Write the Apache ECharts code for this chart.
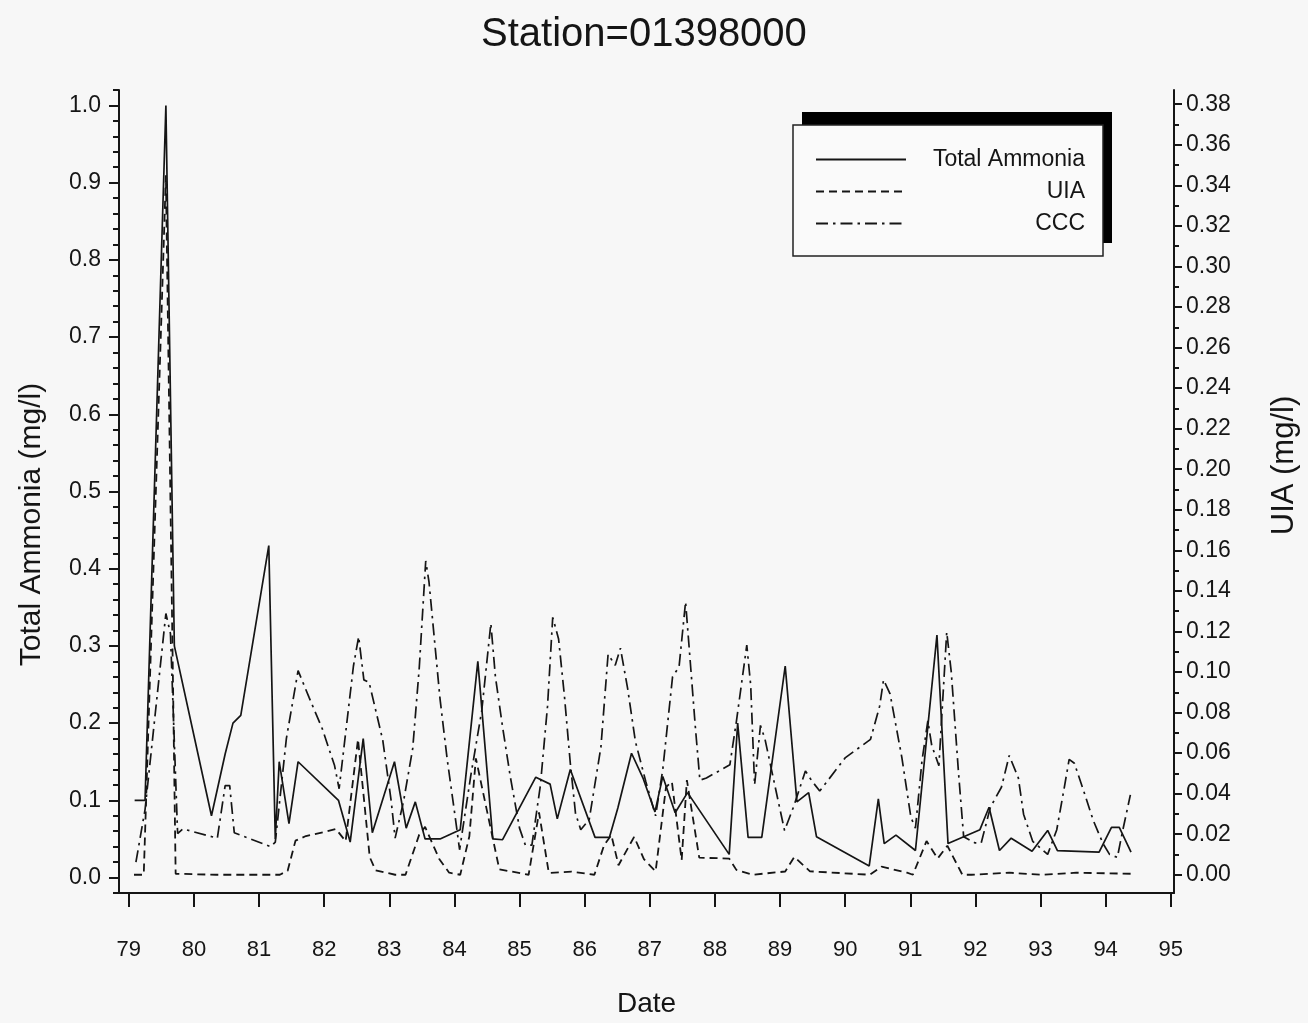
<!DOCTYPE html>
<html>
<head>
<meta charset="utf-8">
<script src="https://cdn.jsdelivr.net/npm/echarts@6/dist/echarts.min.js"></script>
<style>
html,body{margin:0;padding:0;background:#f7f7f7;}
#chart{width:1308px;height:1023px;}
</style>
</head>
<body>
<div id="chart"></div>
<script>
// ---- Data (year as decimal, e.g. 79.5 = mid-1979) ----
const yearTicks = [79,80,81,82,83,84,85,86,87,88,89,90,91,92,93,94,95];
const leftTicks = [0.0,0.1,0.2,0.3,0.4,0.5,0.6,0.7,0.8,0.9,1.0];
const rightTicks = [0.00,0.02,0.04,0.06,0.08,0.10,0.12,0.14,0.16,0.18,0.20,0.22,0.24,0.26,0.28,0.30,0.32,0.34,0.36,0.38];

const taDates = [79.09,79.25,79.57,79.70,80.27,80.48,80.60,80.72,81.15,81.25,81.31,81.46,81.60,82.22,82.40,82.60,82.74,83.08,83.26,83.40,83.55,83.78,84.09,84.36,84.59,84.74,85.25,85.47,85.58,85.78,86.16,86.38,86.51,86.72,86.90,87.08,87.20,87.39,87.58,88.22,88.35,88.51,88.72,89.08,89.26,89.44,89.56,90.37,90.51,90.60,90.78,91.08,91.41,91.58,92.07,92.21,92.37,92.55,92.87,93.11,93.26,93.90,94.09,94.21,94.39];
const taValues = [0.10,0.10,1.00,0.30,0.08,0.16,0.20,0.21,0.43,0.05,0.15,0.07,0.15,0.10,0.046,0.18,0.058,0.15,0.064,0.098,0.05,0.05,0.062,0.28,0.05,0.049,0.13,0.121,0.076,0.14,0.052,0.052,0.09,0.161,0.128,0.085,0.131,0.084,0.11,0.03,0.20,0.052,0.052,0.274,0.098,0.11,0.053,0.015,0.102,0.044,0.055,0.035,0.314,0.044,0.062,0.091,0.035,0.051,0.034,0.061,0.035,0.033,0.065,0.065,0.033];

const uiaDates = [79.08,79.23,79.57,79.72,80.34,80.45,81.32,81.44,81.56,81.72,82.03,82.18,82.33,82.52,82.70,82.79,83.09,83.25,83.46,83.55,83.77,83.92,84.09,84.23,84.33,84.69,85.14,85.30,85.45,85.80,86.15,86.30,86.41,86.52,86.76,86.91,87.09,87.25,87.34,87.49,87.57,87.76,88.22,88.33,88.58,89.08,89.22,89.46,90.38,90.56,90.95,91.04,91.25,91.42,91.57,91.80,91.94,92.52,93.03,93.55,94.39];
const uiaValues = [0.0,0.0,0.345,0.0005,0.0,0.0,0.0,0.002,0.0168,0.0191,0.0213,0.0226,0.0165,0.0668,0.0087,0.0022,0.0,0.0,0.0198,0.0236,0.0076,0.001,0.0,0.019,0.0574,0.0027,0.0,0.0307,0.0009,0.0015,0.0,0.0147,0.0196,0.0047,0.0187,0.0077,0.0017,0.0433,0.0458,0.0072,0.0467,0.0084,0.008,0.0024,0.0,0.0016,0.0088,0.0017,0.0,0.004,0.001,0.0,0.0166,0.008,0.0143,0.0,0.0,0.001,0.0,0.001,0.0005];

const cccDates = [79.11,79.25,79.57,79.64,79.75,79.83,80.36,80.48,80.55,80.62,81.18,81.25,81.42,81.60,81.77,81.97,82.16,82.23,82.45,82.53,82.61,82.69,82.90,83.03,83.09,83.22,83.36,83.46,83.56,83.61,83.78,83.89,84.01,84.08,84.25,84.42,84.56,84.63,84.74,84.86,85.00,85.09,85.19,85.32,85.43,85.51,85.60,85.69,85.78,85.86,85.94,86.07,86.25,86.36,86.47,86.55,86.66,86.78,86.94,87.09,87.20,87.35,87.45,87.55,87.64,87.70,87.77,87.87,88.23,88.33,88.49,88.55,88.61,88.70,88.77,88.98,89.07,89.21,89.39,89.49,89.61,90.00,90.39,90.53,90.59,90.69,90.87,91.01,91.08,91.18,91.27,91.33,91.44,91.56,91.63,91.74,91.82,91.99,92.09,92.23,92.40,92.52,92.66,92.74,92.88,93.11,93.25,93.36,93.44,93.52,93.66,93.81,93.96,94.06,94.18,94.26,94.38];
const cccValues = [0.02,0.088,0.342,0.316,0.057,0.063,0.051,0.119,0.119,0.058,0.040,0.046,0.18,0.268,0.233,0.193,0.145,0.115,0.274,0.312,0.256,0.253,0.178,0.099,0.051,0.099,0.167,0.271,0.41,0.383,0.231,0.153,0.080,0.036,0.131,0.216,0.329,0.260,0.195,0.130,0.064,0.042,0.042,0.119,0.222,0.337,0.309,0.235,0.148,0.083,0.062,0.075,0.169,0.289,0.275,0.297,0.245,0.176,0.124,0.080,0.140,0.260,0.273,0.357,0.260,0.195,0.126,0.129,0.146,0.202,0.301,0.249,0.120,0.197,0.179,0.096,0.061,0.092,0.138,0.125,0.112,0.155,0.179,0.222,0.256,0.238,0.156,0.078,0.064,0.151,0.203,0.171,0.145,0.318,0.266,0.137,0.053,0.045,0.045,0.091,0.117,0.158,0.129,0.082,0.047,0.030,0.062,0.114,0.153,0.148,0.113,0.074,0.044,0.030,0.026,0.060,0.107];

// ---- Chart ----
const FONT = "'Liberation Sans', Arial, sans-serif";
const INK = '#151515';
const pair = (d, v) => d.map((x, i) => [x, v[i]]);

const leftMinor = [];
for (let i = -1; i <= 51; i++) leftMinor.push(Math.round(i * 2) / 100);
const rightMinor = [];
for (let i = 0; i <= 38; i++) rightMinor.push(i / 100);

const chart = echarts.init(document.getElementById('chart'), null, {renderer: 'canvas'});

const grid = {left: 119, top: 90, width: 1061, height: 803};

const option = {
  backgroundColor: '#f7f7f7',
  animation: false,
  title: {
    text: 'Station=01398000',
    left: 476, top: 10,
    textStyle: {fontFamily: FONT, fontSize: 40, fontWeight: 'normal', color: INK}
  },
  grid: grid,
  legend: {
    orient: 'vertical',
    left: 810, top: 143,
    itemWidth: 90, itemHeight: 4, itemGap: 9,
    z: 10,
    data: ['Total Ammonia', 'UIA', 'CCC'],
    itemStyle: {opacity: 0},
    formatter: n => '{n|' + n + '}',
    textStyle: {
      color: INK, fontFamily: FONT, fontSize: 23,
      rich: {n: {width: 174, align: 'right', fontSize: 23, fontFamily: FONT, color: INK}}
    }
  },
  graphic: [
    {type: 'rect', z: 5, shape: {x: 802, y: 112, width: 310, height: 131}, style: {fill: '#000'}},
    {type: 'rect', z: 6, shape: {x: 793, y: 125, width: 310, height: 131}, style: {fill: '#fafafa', stroke: '#222', lineWidth: 1.5}}
  ],
  xAxis: {
    type: 'value', min: 78.85, max: 95.05,
    name: 'Date', nameLocation: 'middle', nameGap: 97,
    nameTextStyle: {fontFamily: FONT, fontSize: 28, color: INK},
    axisLine: {show: true, onZero: false, lineStyle: {color: INK, width: 2}},
    axisTick: {show: true, length: 14, customValues: yearTicks, lineStyle: {color: INK, width: 2}},
    axisLabel: {customValues: yearTicks, formatter: v => String(Math.round(v)), margin: 46,
      fontFamily: FONT, fontSize: 22, color: INK},
    splitLine: {show: false}
  },
  yAxis: [
    {
      type: 'value', position: 'left', min: -0.02, max: 1.02,
      name: 'Total Ammonia (mg/l)', nameLocation: 'middle', nameGap: 72, nameRotate: 90,
      nameTextStyle: {fontFamily: FONT, fontSize: 30, color: INK, padding: [0, 66, 0, 0]},
      axisLine: {show: true, lineStyle: {color: INK, width: 2}},
      axisTick: {show: true, length: 10, customValues: leftTicks, lineStyle: {color: INK, width: 2}},
      axisLabel: {customValues: leftTicks, formatter: v => v.toFixed(1), margin: 18,
        fontFamily: FONT, fontSize: 23, color: INK},
      splitLine: {show: false}
    },
    {
      type: 'value', position: 'right', min: -0.009, max: 0.387,
      name: 'UIA (mg/l)', nameLocation: 'middle', nameGap: 95, nameRotate: 90,
      nameTextStyle: {fontFamily: FONT, fontSize: 31, color: INK, padding: [0, 0, 0, 52]},
      axisLine: {show: true, lineStyle: {color: INK, width: 2}},
      axisTick: {show: true, length: 8, customValues: rightTicks, lineStyle: {color: INK, width: 2}},
      axisLabel: {customValues: rightTicks, formatter: v => v.toFixed(2), margin: 12,
        fontFamily: FONT, fontSize: 23, color: INK},
      splitLine: {show: false}
    },
    {
      type: 'value', position: 'left', min: -0.02, max: 1.02,
      axisLine: {show: false},
      axisTick: {show: true, length: 6, customValues: leftMinor, lineStyle: {color: INK, width: 2}},
      axisLabel: {show: false},
      splitLine: {show: false}
    },
    {
      type: 'value', position: 'right', min: -0.009, max: 0.387,
      axisLine: {show: false},
      axisTick: {show: true, length: 5, customValues: rightMinor, lineStyle: {color: INK, width: 2}},
      axisLabel: {show: false},
      splitLine: {show: false}
    }
  ],
  series: [
    {
      name: 'Total Ammonia', type: 'line', yAxisIndex: 0, symbol: 'none',
      data: pair(taDates, taValues),
      lineStyle: {color: INK, width: 1.7, type: 'solid'},
      itemStyle: {color: INK}, z: 3
    },
    {
      name: 'UIA', type: 'line', yAxisIndex: 1, symbol: 'none',
      data: pair(uiaDates, uiaValues),
      lineStyle: {color: INK, width: 1.8, type: [8, 5]},
      itemStyle: {color: INK}, z: 3
    },
    {
      name: 'CCC', type: 'line', yAxisIndex: 0, symbol: 'none',
      data: pair(cccDates, cccValues),
      lineStyle: {color: INK, width: 1.7, type: [12, 5, 2.5, 5]},
      itemStyle: {color: INK}, z: 3
    }
  ]
};
chart.setOption(option);
</script>
</body>
</html>
